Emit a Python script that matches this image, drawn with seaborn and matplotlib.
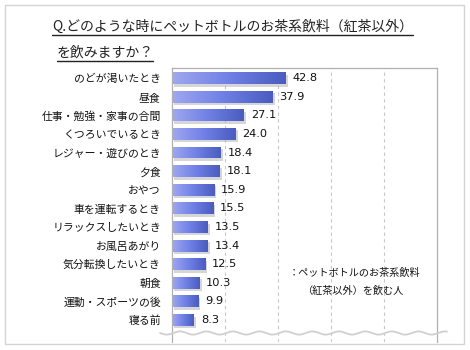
import numpy as np
import pandas as pd
import matplotlib
matplotlib.use("Agg")
import matplotlib.pyplot as plt
import seaborn as sns
from matplotlib.patheffects import SimplePatchShadow, Normal
from matplotlib.colors import LinearSegmentedColormap
from matplotlib.lines import Line2D
from matplotlib.patches import Rectangle

categories = ["のどが渇いたとき", "昼食", "仕事・勉強・家事の合間", "くつろいでいるとき",
              "レジャー・遊びのとき", "夕食", "おやつ", "車を運転するとき",
              "リラックスしたいとき", "お風呂あがり", "気分転換したいとき", "朝食",
              "運動・スポーツの後", "寝る前"]
values = [42.8, 37.9, 27.1, 24.0, 18.4, 18.1, 15.9, 15.5, 13.5, 13.4, 12.5, 10.3, 9.9, 8.3]
title_line1 = "Q.どのような時にペットボトルのお茶系飲料（紅茶以外）"
title_line2 = "を飲みますか？"
legend_text = "：ペットボトルのお茶系飲料\n（紅茶以外）を飲む人"

sns.set_theme(style="white")
plt.rcParams['font.family'] = ['Noto Sans CJK JP', 'DejaVu Sans']

W, H = 470, 350
fig = plt.figure(figsize=(4.7, 3.5), dpi=100)
ax = fig.add_axes([172 / W, 1 - 342 / H, (437 - 172) / W, (342 - 68) / H])

df = pd.DataFrame({"cat": categories, "val": values})
sns.barplot(data=df, y="cat", x="val", ax=ax, color="#6a78dc", width=0.64,
            saturation=1, edgecolor="none")

cmap = LinearSegmentedColormap.from_list("g", ["#a0a8f0", "#7080e6", "#4a5cc0"])
grad = np.linspace(0, 1, 256).reshape(1, -1)
for p in ax.patches:
    p.set_path_effects([SimplePatchShadow(offset=(1.6, -1.8), shadow_rgbFace="#9a9a9a", alpha=0.4), Normal()])
    x0, y0 = p.get_x(), p.get_y()
    w, h = p.get_width(), p.get_height()
    im = ax.imshow(grad, cmap=cmap, aspect="auto", extent=[x0, x0 + w, y0 + h, y0],
                   zorder=p.get_zorder() + 0.1, interpolation="bilinear")
    im.set_clip_path(p)

for i, v in enumerate(values):
    ax.text(v + 2.6, i, f"{v:.1f}", va="center", ha="left", fontsize=8.2, color="#111111",
            family=["DejaVu Sans"])

ax.set_xlim(0, 100)
ax.set_ylim(len(values) - 1 + 1.18, -0.54)
ax.set_xticks([20, 40, 60, 80])
ax.set_xticklabels([])
ax.tick_params(axis="x", length=0)
ax.tick_params(axis="y", length=0, pad=8, labelsize=7.8, labelcolor="#111111")
ax.set_xlabel("")
ax.set_ylabel("")
ax.grid(axis="x", linestyle=(0, (3, 3)), color="#c8c8c8", linewidth=0.8)
ax.set_axisbelow(True)
for s in ["left", "right", "top"]:
    ax.spines[s].set_color("#b0b0b0")
    ax.spines[s].set_linewidth(0.9)
ax.spines["bottom"].set_visible(False)

# wavy decoration
xs = np.linspace(160, 447, 400)
ys = 333 + 1.6 * np.sin((xs - 160) / 53 * 2 * np.pi * 2)
fig.add_artist(Line2D(xs / W, 1 - ys / H, color="#d0d0d0", linewidth=1.3))

# title
fig.text(52 / W, 1 - 27 / H, title_line1, fontsize=10, ha="left", va="center", color="#222222")
fig.text(57 / W, 1 - 53 / H, title_line2, fontsize=10, ha="left", va="center", color="#222222")
fig.add_artist(Line2D([52 / W, 413 / W], [1 - 34.5 / H] * 2, color="#222222", linewidth=1))
fig.add_artist(Line2D([57 / W, 153 / W], [1 - 61 / H] * 2, color="#222222", linewidth=1))

# legend note
fig.text(354 / W, 1 - 282 / H, legend_text, fontsize=7.3, ha="center", va="center",
         color="#111111", linespacing=2.0)

# outer border
fig.add_artist(Rectangle((5 / W, 1 - 344 / H), (464 - 5) / W, (344 - 5) / H,
                         transform=fig.transFigure, fill=False, edgecolor="#d4d4d4", linewidth=1))

fig.savefig("out.png", dpi=100)
